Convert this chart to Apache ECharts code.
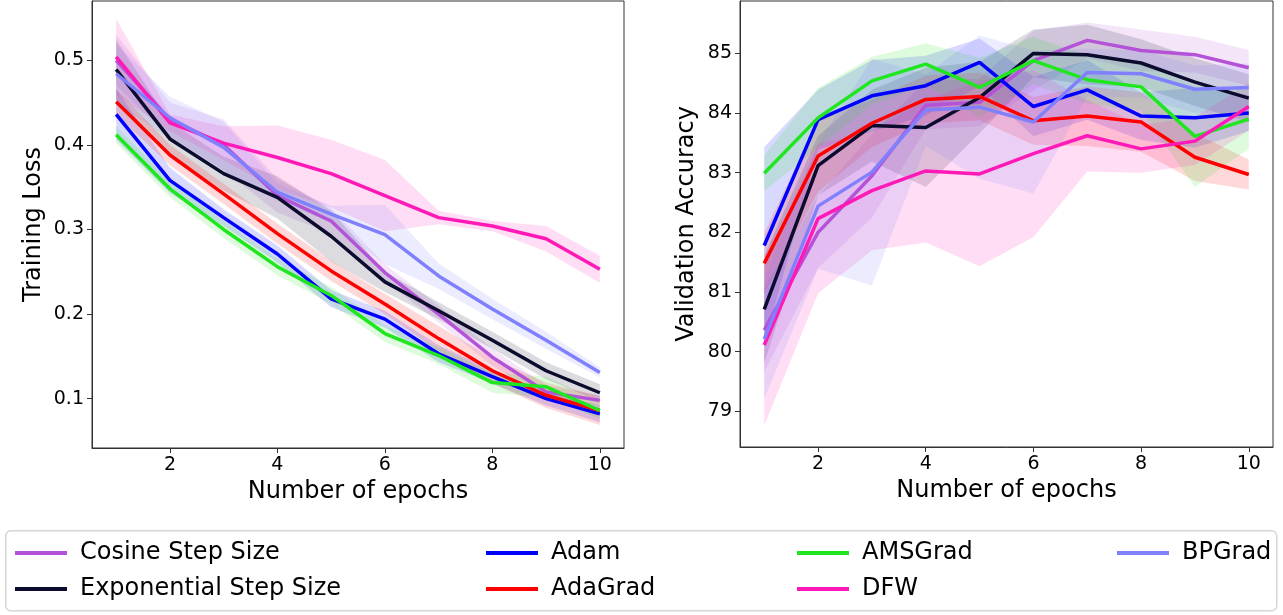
<!DOCTYPE html>
<html>
<head>
<meta charset="utf-8">
<script src="https://cdn.jsdelivr.net/npm/echarts@6/dist/echarts.min.js"></script>
<style>html,body{margin:0;padding:0;background:#fff;}#c{width:1283px;height:615px;}</style>
</head>
<body>
<div id="c"></div>
<script>
// ---- data ----
const epochs = [1,2,3,4,5,6,7,8,9,10];
const names = ['Cosine Step Size','Exponential Step Size','Adam','AdaGrad','AMSGrad','DFW','BPGrad'];
const xTicks = [2,4,6,8,10];
const lossTicks = [0.1,0.2,0.3,0.4,0.5];
const accTicks = [79,80,81,82,83,84,85];

// Training loss (mean)
const lossCosine = [0.500,0.430,0.400,0.340,0.310,0.249,0.200,0.149,0.108,0.098];
const lossExp    = [0.489,0.407,0.366,0.338,0.292,0.238,0.204,0.169,0.133,0.107];
const lossAdam   = [0.436,0.358,0.314,0.271,0.218,0.194,0.153,0.126,0.100,0.082];
const lossAdaGrad= [0.451,0.388,0.342,0.295,0.251,0.212,0.171,0.133,0.104,0.086];
const lossAMS    = [0.412,0.348,0.300,0.256,0.222,0.177,0.151,0.119,0.114,0.086];
const lossDFW    = [0.504,0.426,0.402,0.385,0.366,0.340,0.314,0.304,0.289,0.253];
const lossBP     = [0.484,0.432,0.397,0.344,0.318,0.294,0.245,0.206,0.169,0.131];
// Training loss (std band half-width)
const lossCosineSd = [0.030,0.020,0.030,0.020,0.015,0.010,0.010,0.010,0.008,0.006];
const lossExpSd    = [0.035,0.020,0.020,0.025,0.030,0.012,0.010,0.010,0.010,0.010];
const lossAdamSd   = [0.030,0.015,0.010,0.010,0.010,0.010,0.010,0.008,0.008,0.010];
const lossAdaGradSd= [0.015,0.012,0.012,0.012,0.012,0.012,0.015,0.015,0.015,0.017];
const lossAMSSd    = [0.010,0.010,0.010,0.010,0.010,0.010,0.010,0.012,0.012,0.010];
const lossDFWSd    = [0.045,0.010,0.020,0.038,0.040,0.042,0.008,0.006,0.015,0.016];
const lossBPSd     = [0.035,0.025,0.030,0.010,0.010,0.035,0.015,0.012,0.010,0.006];

// Validation accuracy (mean)
const accCosine = [80.36,82.00,82.95,84.13,84.18,84.88,85.22,85.05,84.98,84.76];
const accExp    = [80.71,83.12,83.79,83.76,84.26,85.00,84.98,84.84,84.52,84.25];
const accAdam   = [81.78,83.89,84.29,84.46,84.85,84.11,84.39,83.95,83.92,84.00];
const accAdaGrad= [81.48,83.28,83.83,84.23,84.28,83.87,83.95,83.85,83.26,82.97];
const accAMS    = [82.99,83.92,84.54,84.82,84.43,84.88,84.56,84.44,83.61,83.90];
const accDFW    = [80.11,82.23,82.70,83.03,82.98,83.32,83.62,83.40,83.53,84.11];
const accBP     = [80.21,82.44,83.01,84.05,84.10,83.85,84.68,84.66,84.40,84.43];
// Validation accuracy (std band half-width)
const accCosineSd = [0.70,0.60,0.70,0.40,0.40,0.50,0.30,0.35,0.30,0.30];
const accExpSd    = [0.90,0.50,0.60,1.00,0.60,0.40,0.50,0.40,0.40,0.40];
const accAdamSd   = [1.65,0.50,0.60,0.50,0.40,0.50,0.50,0.40,0.50,0.30];
const accAdaGradSd= [0.50,0.60,0.40,0.40,0.40,0.40,0.50,0.50,0.40,0.25];
const accAMSSd    = [0.30,0.50,0.40,0.35,0.50,0.40,0.40,0.40,0.85,0.50];
const accDFWSd    = [1.35,1.25,1.00,1.20,1.55,1.40,0.60,0.40,0.40,0.40];
const accBPSd     = [1.00,1.05,1.90,0.60,1.20,1.20,0.40,0.40,0.40,0.40];

const colors = ['#b452d8','#0b0b2e','#0000ff','#ff0000','#20e620','#ff1ab8','#8080ff'];

const lossMeans = [lossCosine,lossExp,lossAdam,lossAdaGrad,lossAMS,lossDFW,lossBP];
const lossSds = [lossCosineSd,lossExpSd,lossAdamSd,lossAdaGradSd,lossAMSSd,lossDFWSd,lossBPSd];
const accMeans = [accCosine,accExp,accAdam,accAdaGrad,accAMS,accDFW,accBP];
const accSds = [accCosineSd,accExpSd,accAdamSd,accAdaGradSd,accAMSSd,accDFWSd,accBPSd];

const FONT = 'DejaVu Sans';
const series = [];
function addPanel(means, sds, idx) {
  // std bands as polygons through the axes' scales
  means.forEach((m, i) => {
    const sd = sds[i];
    // data rows: [epoch, lower, upper]
    const rows = epochs.map((e,k)=>[e, m[k]-sd[k], m[k]+sd[k]]);
    series.push({
      type:'custom', name: names[i] + ' band', xAxisIndex: idx, yAxisIndex: idx,
      silent:true, z: 1, clip:true,
      data: [0],
      encode:{x:-1, y:-1},
      renderItem: function(params, api) {
        const upper = rows.map(r => api.coord([r[0], r[2]]));
        const lower = rows.slice().reverse().map(r => api.coord([r[0], r[1]]));
        return {
          type:'polygon',
          shape:{points: upper.concat(lower)},
          style:{fill: colors[i], opacity: 0.15}
        };
      }
    });
  });
  means.forEach((m, i) => {
    series.push({
      type:'line', name: names[i], xAxisIndex: idx, yAxisIndex: idx,
      symbol:'none', color: colors[i], lineStyle:{width:3.5, color: colors[i]},
      data: epochs.map((e,k)=>[e, m[k]]), z: 3
    });
  });
}
addPanel(lossMeans, lossSds, 0);
addPanel(accMeans, accSds, 1);

function xAxis(gi) {
  return {
    type:'value', gridIndex: gi, min:0.55, max:10.45,
    name:'Number of epochs', nameLocation:'middle', nameGap:32,
    nameTextStyle:{fontFamily:FONT, fontSize:24, color:'#000'},
    axisLine:{show:true, lineStyle:{color:'#333', width:1}},
    axisTick:{show:true, length:5, customValues:xTicks, lineStyle:{color:'#333'}},
    axisLabel:{customValues:xTicks, fontFamily:FONT, fontSize:19, color:'#000', margin:8},
    splitLine:{show:false}
  };
}
function yAxis(gi, mn, mx, ticks, nm, gap, dec) {
  return {
    type:'value', gridIndex: gi, min:mn, max:mx,
    name:nm, nameLocation:'middle', nameGap:gap,
    nameTextStyle:{fontFamily:FONT, fontSize:24, color:'#000'},
    axisLine:{show:true, lineStyle:{color:'#333', width:1}},
    axisTick:{show:true, length:5, customValues:ticks, lineStyle:{color:'#333'}},
    axisLabel:{customValues:ticks, fontFamily:FONT, fontSize:19, color:'#000', margin:8,
      formatter: v => v.toFixed(dec)},
    splitLine:{show:false}
  };
}

const legendCommon = {
  orient:'vertical', top:536, itemWidth:52, itemHeight:4, itemGap:12, icon:'rect',
  textStyle:{fontFamily:FONT, fontSize:24, color:'#000', padding:[0,0,0,8]}
};

const option = {
  animation:false,
  backgroundColor:'#fff',
  grid:[
    {left:92, top:1, width:532, height:447, show:true, borderColor:'#333', borderWidth:1, backgroundColor:'transparent'},
    {left:740, top:1, width:533, height:446, show:true, borderColor:'#333', borderWidth:1, backgroundColor:'transparent'}
  ],
  xAxis:[xAxis(0), xAxis(1)],
  yAxis:[
    yAxis(0, 0.0417, 0.570, lossTicks, 'Training Loss', 46, 1),
    yAxis(1, 78.40, 85.88, accTicks, 'Validation Accuracy', 41, 0)
  ],
  legend:[
    Object.assign({}, legendCommon, {left:10, data:['Cosine Step Size','Exponential Step Size']}),
    Object.assign({}, legendCommon, {left:481, data:['Adam','AdaGrad']}),
    Object.assign({}, legendCommon, {left:792, data:['AMSGrad','DFW']}),
    Object.assign({}, legendCommon, {left:1112, data:['BPGrad']})
  ],
  graphic:[{
    type:'rect', left:5, top:530, z:-1,
    shape:{width:1271, height:80, r:5},
    style:{fill:'#fff', stroke:'#d6d6d6', lineWidth:1.5}
  }],
  series: series
};
const chart = echarts.init(document.getElementById('c'), null, {renderer:'canvas'});
chart.setOption(option);
</script>
</body>
</html>
